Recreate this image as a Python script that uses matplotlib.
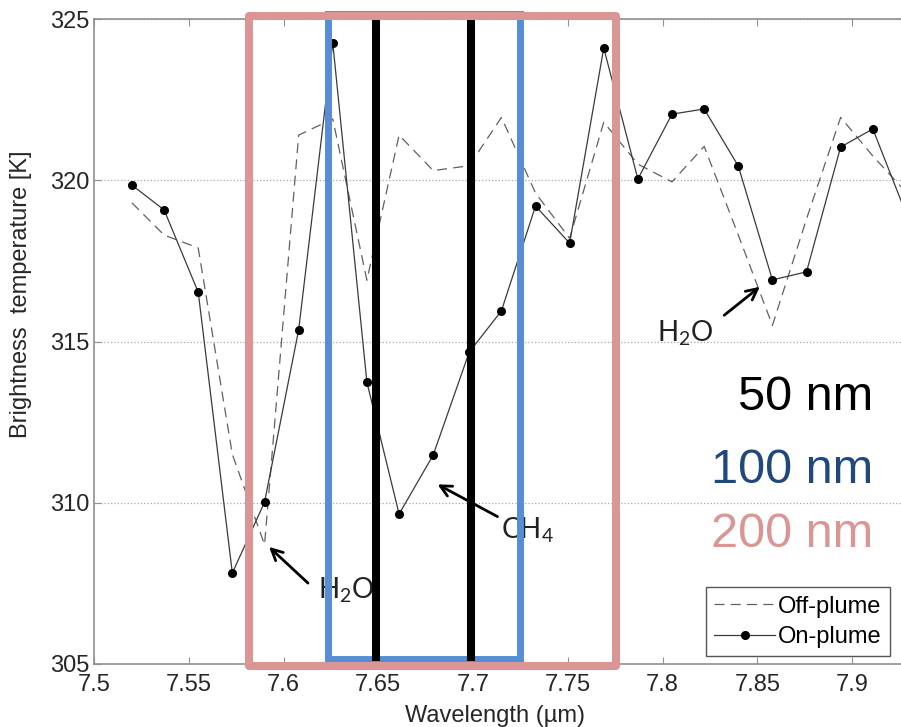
import matplotlib
matplotlib.use('Agg')
import matplotlib.pyplot as plt
import matplotlib.transforms as mtransforms
from matplotlib.patches import Rectangle

plt.rcParams['font.family'] = ['Liberation Sans', 'DejaVu Sans']
plt.rcParams['mathtext.fontset'] = 'custom'
plt.rcParams['mathtext.rm'] = 'Lato'

wavelength = [7.520, 7.537, 7.555, 7.573, 7.590, 7.608, 7.626, 7.644, 7.661,
              7.679, 7.698, 7.715, 7.733, 7.751, 7.769, 7.787, 7.805, 7.822,
              7.840, 7.858, 7.876, 7.894, 7.911, 7.929]
on_plume = [319.85, 319.08, 316.53, 307.82, 310.02, 315.36, 324.26, 313.74,
            309.65, 311.48, 314.67, 315.95, 319.20, 318.05, 324.10, 320.04,
            322.05, 322.21, 320.44, 316.91, 317.16, 321.03, 321.59, 318.90]
off_plume = [319.30, 318.30, 317.90, 311.50, 308.70, 321.40, 321.90, 316.90,
             321.40, 320.30, 320.45, 321.95, 319.60, 318.20, 321.80, 320.50,
             319.95, 321.05, 318.30, 315.50, 318.80, 321.95, 320.75, 319.60]

# spectral windows: (left, right) in um
win_50 = (7.6488, 7.6992)
win_100 = (7.6235, 7.7248)
win_200 = (7.5818, 7.7755)

window_labels = ['50 nm', '100 nm', '200 nm']
window_colors = ['black', '#1f497d', '#d99694']

fig = plt.figure(figsize=(9.01, 7.27), dpi=100)
ax = fig.add_axes([94 / 901, 63 / 727, 807 / 901, 645 / 727])

ax.plot(wavelength, off_plume, '--', color='#606060', lw=0.9,
        dashes=(8, 5), label='Off-plume')
ax.plot(wavelength, on_plume, '-', color='#3a3a3a', lw=0.9,
        marker='o', ms=5.5, mfc='black', mec='black', label='On-plume')

ax.set_xlim(7.5, 7.5 + 807 / 1895)
ax.set_ylim(305, 325)
ax.set_xticks([7.5, 7.55, 7.6, 7.65, 7.7, 7.75, 7.8, 7.85, 7.9])
ax.set_xticklabels(['7.5', '7.55', '7.6', '7.65', '7.7', '7.75', '7.8', '7.85', '7.9'])
ax.set_yticks([305, 310, 315, 320, 325])
ax.yaxis.grid(True, linestyle=':', color='#a8a8a8', lw=0.9)

for side in ['left', 'bottom', 'top']:
    ax.spines[side].set_color('#909090')
    ax.spines[side].set_linewidth(1.2)
ax.spines['right'].set_visible(False)
ax.tick_params(direction='in', length=5, color='#909090', top=True,
               labelsize=17, labelcolor='#262626')
ax.tick_params(axis='x', pad=7)
ax.tick_params(axis='y', pad=3)

ax.set_xlabel('Wavelength (µm)', fontsize=17, color='#262626')
ax.xaxis.set_label_coords(0.497, -0.063)
ax.set_ylabel('Brightness  temperature [K]', fontsize=17, color='#262626')
ax.yaxis.set_label_coords(-0.077, 0.574)

leg = ax.legend(loc='lower right', bbox_to_anchor=(0.986, 0.012), fontsize=17,
                fancybox=False, edgecolor='#555555', framealpha=1,
                handlelength=2.6, borderpad=0.35, labelspacing=0.35,
                handletextpad=0.1, borderaxespad=0)
leg.get_frame().set_linewidth(1.0)

# absorption-feature labels
arrow = dict(arrowstyle='->,head_length=0.8,head_width=0.4', lw=2, color='black')
ax.annotate('', xy=(7.5913, 308.69), xytext=(7.614, 307.45), arrowprops=arrow)
ax.text(7.6182, 307.3, 'H$_\\mathrm{2}$O', fontsize=20, family='Lato',
        color='#222222', va='center')
ax.annotate('', xy=(7.680, 310.61), xytext=(7.7142, 309.53), arrowprops=arrow)
ax.text(7.7148, 309.15, 'CH$_\\mathrm{4}$', fontsize=20, family='Lato',
        color='#222222', va='center')
ax.annotate('', xy=(7.8525, 316.75), xytext=(7.8314, 315.76), arrowprops=arrow)
ax.text(7.7971, 315.26, 'H$_\\mathrm{2}$O', fontsize=20, family='Lato',
        color='#222222', va='center')

# window outlines, x in data units and y in axes fraction
trans = mtransforms.blended_transform_factory(ax.transData, ax.transAxes)
ax.add_patch(Rectangle((win_100[0], 0.0078), win_100[1] - win_100[0], 1.0,
                       fill=False, ec='#558ed5', lw=5, transform=trans,
                       clip_on=False, zorder=5))
for xv in win_50:
    ax.plot([xv, xv], [0.004, 0.998], color='black', lw=5.8, transform=trans,
            clip_on=False, zorder=6, solid_capstyle='butt')
ax.add_patch(Rectangle((win_200[0], -0.003), win_200[1] - win_200[0], 1.0077,
                       fill=False, ec='#d99694', lw=5.8, transform=trans,
                       clip_on=False, zorder=7, joinstyle='round'))

for label, color, yb in zip(window_labels, window_colors, [0.436, 0.3356, 0.2476]):
    fig.text(0.969, yb, label, fontsize=35, color=color, ha='right',
             va='baseline', family='Liberation Sans')

fig.savefig('out.png', dpi=100)
